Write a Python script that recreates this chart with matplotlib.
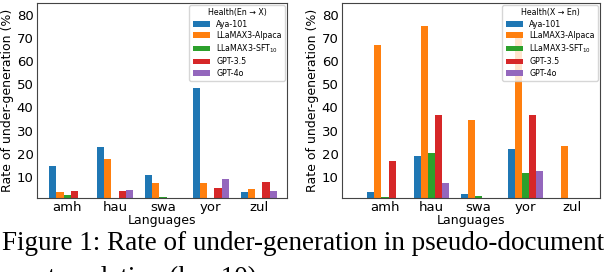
import numpy as np
import matplotlib
matplotlib.use("Agg")
import matplotlib.pyplot as plt

# ── data ──────────────────────────────────────────────────────────────────────
LANGS = ["amh", "hau", "swa", "yor", "zul"]
MODELS = ["Aya-101", "LLaMAX3-Alpaca", "LLaMAX3-SFT$_{10}$", "GPT-3.5", "GPT-4o"]
COLORS = ["#1f77b4", "#ff7f0e", "#2ca02c", "#d62728", "#9467bd"]

# Health (En -> X), one list per model, values per language
en_x_aya    = [14.6, 23.0, 10.9, 48.4, 3.7]
en_x_alpaca = [3.8, 18.0, 7.4, 7.4, 5.0]
en_x_sft    = [2.4, 0.0, 1.6, 0.0, 0.0]
en_x_gpt35  = [4.1, 4.1, 0.0, 5.5, 7.7]
en_x_gpt4o  = [0.0, 4.5, 0.0, 9.1, 4.1]

# Health (X -> En)
x_en_aya    = [3.7, 19.1, 2.9, 22.1, 0.0]
x_en_alpaca = [66.8, 75.3, 34.7, 70.0, 23.5]
x_en_sft    = [1.5, 20.4, 1.9, 11.9, 0.0]
x_en_gpt35  = [17.0, 36.8, 0.0, 36.8, 0.0]
x_en_gpt4o  = [0.0, 7.3, 0.0, 12.7, 0.0]

PANELS = [
    ("Health(En → X)", [en_x_aya, en_x_alpaca, en_x_sft, en_x_gpt35, en_x_gpt4o]),
    ("Health(X → En)", [x_en_aya, x_en_alpaca, x_en_sft, x_en_gpt35, x_en_gpt4o]),
]

WIDTH = 0.15


def draw_panel(ax, title, series, xlim):
    x = np.arange(len(LANGS))
    for k, (name, vals, col) in enumerate(zip(MODELS, series, COLORS)):
        ax.bar(x + (k - 2) * WIDTH, vals, WIDTH, label=name, color=col)
    ax.set_xticks(x)
    ax.set_xticklabels(LANGS)
    ax.set_yticks([10, 20, 30, 40, 50, 60, 70, 80])
    ax.set_ylim(1, 85)
    ax.set_xlim(*xlim)
    ax.tick_params(length=0, pad=2.5, labelsize=9.5)
    ax.set_xlabel("Languages", fontsize=9, labelpad=0)
    ax.set_ylabel("Rate of under-generation (%)", fontsize=9, labelpad=2)
    for s in ax.spines.values():
        s.set_color("#444444")
    ax.legend(title=title, loc="upper right", fontsize=5.7, title_fontsize=5.7,
              labelspacing=0.3, handlelength=2.2, borderaxespad=0.25,
              framealpha=0.8)


fig = plt.figure(figsize=(6.06, 2.72), dpi=100)
ax1 = fig.add_axes([37 / 606, 74 / 272, 250 / 606, 195 / 272])
ax2 = fig.add_axes([342 / 606, 74 / 272, 258 / 606, 195 / 272])

draw_panel(ax1, PANELS[0][0], PANELS[0][1], (-0.63, 4.59))
draw_panel(ax2, PANELS[1][0], PANELS[1][1], (-0.92, 4.6))

# figure caption; the second line is cut by the bottom edge as in the source
fig.text(2 / 606, 22 / 272, "Figure 1: Rate of under-generation in pseudo-document",
         family="Liberation Serif", fontsize=19.5, va="baseline", ha="left")
fig.text(48 / 606, -13 / 272, "translation (k = 10).",
         family="Liberation Serif", fontsize=19.5, va="baseline", ha="left")

fig.savefig("out.png", dpi=100)
